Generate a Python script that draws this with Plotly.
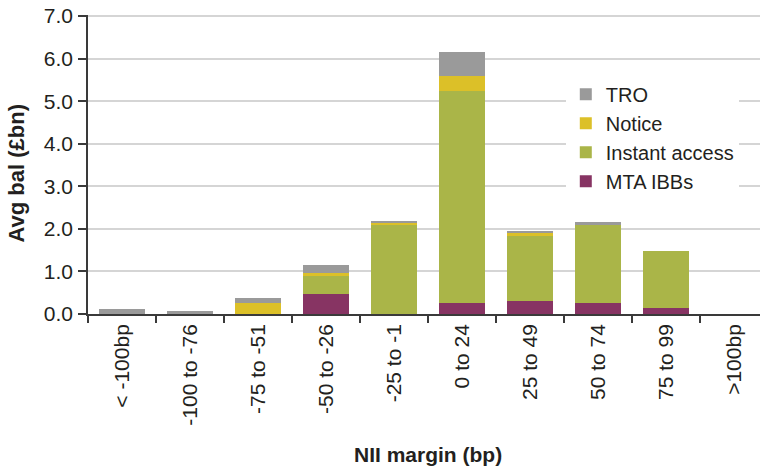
import plotly.graph_objects as go

categories = ["< -100bp", "-100 to -76", "-75 to -51", "-50 to -26", "-25 to -1",
              "0 to 24", "25 to 49", "50 to 74", "75 to 99", ">100bp"]
mta_ibbs = [0.00, 0.00, 0.00, 0.48, 0.00, 0.27, 0.31, 0.27, 0.15, 0.0]
instant_access = [0.00, 0.00, 0.00, 0.42, 2.11, 4.96, 1.53, 1.81, 1.32, 0.0]
notice = [0.00, 0.00, 0.27, 0.07, 0.02, 0.36, 0.07, 0.00, 0.00, 0.0]
tro = [0.12, 0.08, 0.11, 0.19, 0.05, 0.56, 0.03, 0.07, 0.00, 0.0]
y_ticks = [0, 1, 2, 3, 4, 5, 6, 7]

series = [
    ("MTA IBBs", mta_ibbs, "#873463"),
    ("Instant access", instant_access, "#AAB548"),
    ("Notice", notice, "#DCC028"),
    ("TRO", tro, "#9A9A9A"),
]

fig = go.Figure()
for name, vals, col in series:
    fig.add_trace(go.Bar(x=categories, y=vals, name=name,
                         marker=dict(color=col, line=dict(width=0))))

font_family = "Liberation Sans, Arial, sans-serif"
txt = "#231F20"
axcol = "#3A3A3A"

fig.update_layout(
    width=760, height=468,
    margin=dict(l=88, r=0, t=15, b=154, autoexpand=False),
    barmode="stack", bargap=0.32,
    plot_bgcolor="white", paper_bgcolor="white",
    font=dict(family=font_family, size=21, color=txt),
    legend=dict(x=0.711, y=0.80, xanchor="left", yanchor="top",
                bgcolor="white", traceorder="reversed",
                font=dict(size=20, color=txt), itemwidth=30,
                tracegroupgap=0),
    xaxis=dict(
        type="category", range=[-0.5, 9.382],
        tickson="boundaries", ticks="outside", ticklen=7, tickwidth=1.5,
        tickcolor=axcol, tickangle=-90,
        showline=True, linecolor=axcol, linewidth=1.5,
        showgrid=False,
    ),
    yaxis=dict(
        range=[0, 7.025], tickvals=y_ticks, tickformat=".1f",
        ticks="outside", ticklen=8, tickwidth=1.5, tickcolor=axcol,
        ticklabelstandoff=1,
        showline=True, linecolor=axcol, linewidth=1.5,
        showgrid=True, gridcolor="#D5D5D5", gridwidth=1.5,
        zeroline=False,
    ),
    annotations=[
        dict(text="<b>Avg bal (£bn)</b>", textangle=-90,
             xref="paper", yref="paper", x=-0.1057, y=0.473,
             xanchor="center", yanchor="middle", showarrow=False,
             font=dict(size=22, color=txt)),
        dict(text="<b>NII margin (bp)</b>",
             xref="paper", yref="paper", x=0.506, y=-0.4698,
             xanchor="center", yanchor="middle", showarrow=False,
             font=dict(size=21, color=txt)),
    ],
)

fig.write_html("out.html", config={"displayModeBar": False},
               post_script="document.body.style.margin='0px';")
